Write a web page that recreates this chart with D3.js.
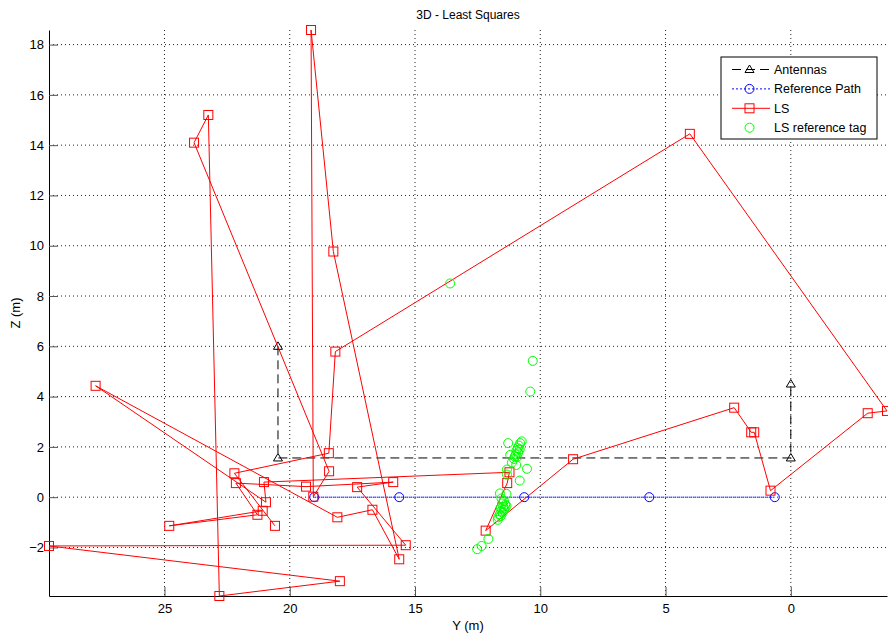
<!DOCTYPE html>
<html>
<head>
<meta charset="utf-8">
<title>3D - Least Squares</title>
<style>
  body { margin: 0; background: #fff; }
  text { font-family: "Liberation Sans", Arial, Helvetica, sans-serif; }
</style>
</head>
<body>
<div id="chart"></div>
<script src="https://d3js.org/d3.v7.min.js"></script>
<script>
// Antennas (Y, Z)
var antY = [20.47, 20.47, 0, 0];
var antZ = [6.0, 1.56, 1.56, 4.5];

// Reference path
var refY = [19.02, 15.63, 10.64, 5.65, 0.64];
var refZ = [0, 0, 0, 0, 0];

// LS estimate, in path order
var lsY = [20.59, 22.21, 18.44, 18.18, 4.03, -3.84, -3.07, 0.81, 1.46, 1.58, 2.26, 8.69, 12.18, 11.32, 11.23,
           21.03, 20.95, 27.75, 18.10, 16.70, 15.63, 18.26, 19.15, 19.06, 18.43, 23.82, 23.25, 22.81, 18.00,
           29.61, 15.37, 17.31, 15.87, 19.35, 22.15, 21.29, 24.81, 21.08];
var lsZ = [-1.14, 0.95, 1.75, 5.79, 14.45, 3.43, 3.34, 0.26, 2.58, 2.58, 3.56, 1.51, -1.33, 0.56, 0.99,
           0.60, -0.20, 4.43, -0.80, -0.50, -2.47, 9.77, 18.58, 0.02, 1.03, 14.10, 15.20, -3.93, -3.34,
           -1.94, -1.91, 0.40, 0.60, 0.42, 0.56, -0.70, -1.14, -0.54];

// LS reference tag
var tagY = [13.6, 10.3, 10.4, 11.28, 10.74, 10.8, 10.85, 10.9, 10.82, 10.95, 10.88, 10.98, 11.02, 10.92,
            11.05, 11.2, 11.13, 10.96, 10.53, 11.33, 11.33, 10.82, 11.61, 11.35, 11.55, 11.45, 11.52, 11.4,
            11.48, 11.58, 11.45, 11.55, 11.5, 11.62, 11.58, 11.68, 11.42, 11.35, 11.7, 12.07, 12.34, 12.52];
var tagZ = [8.5, 5.42, 4.2, 2.15, 2.22, 2.15, 2.05, 1.95, 1.9, 1.85, 1.78, 1.7, 1.62, 1.6,
            1.52, 1.68, 1.38, 1.28, 1.13, 1.1, 0.9, 0.66, 0.15, 0.13, -0.05, -0.15, -0.25, -0.3,
            -0.38, -0.42, -0.5, -0.55, -0.62, -0.68, -0.75, -0.8, -0.45, -0.35, -0.9, -1.66, -1.94, -2.07];

var xTicks = [25, 20, 15, 10, 5, 0];
var yTicks = [-2, 0, 2, 4, 6, 8, 10, 12, 14, 16, 18];

var width = 888, height = 637;
var pLeft = 49, pRight = 887, pTop = 30, pBottom = 596;

function zip(a, b) { return a.map(function(v, i) { return [v, b[i]]; }); }
var ant = zip(antY, antZ), ref = zip(refY, refZ), ls = zip(lsY, lsZ), tag = zip(tagY, tagZ);

var allY = antY.concat(refY, lsY, tagY), allZ = antZ.concat(refZ, lsZ, tagZ);
var x = d3.scaleLinear().domain([d3.max(allY), d3.min(allY)]).range([pLeft, pRight]);
var y = d3.scaleLinear().domain([d3.min(allZ), d3.max(allZ)]).range([pBottom, pTop]);

var svg = d3.select('#chart').append('svg')
    .attr('width', width).attr('height', height);

// grid
svg.append('g').selectAll('line').data(xTicks).enter().append('line')
    .attr('x1', function(d) { return x(d); }).attr('x2', function(d) { return x(d); })
    .attr('y1', pTop).attr('y2', pBottom)
    .attr('stroke', '#222').attr('stroke-width', 1).attr('stroke-dasharray', '1,3');
svg.append('g').selectAll('line').data(yTicks).enter().append('line')
    .attr('y1', function(d) { return y(d); }).attr('y2', function(d) { return y(d); })
    .attr('x1', pLeft).attr('x2', pRight)
    .attr('stroke', '#222').attr('stroke-width', 1).attr('stroke-dasharray', '1,3');

// axes
var xAxis = d3.axisBottom(x).tickValues(xTicks).tickSize(-9).tickPadding(8).tickSizeOuter(0);
var yAxis = d3.axisLeft(y).tickValues(yTicks).tickSize(-9).tickPadding(5).tickSizeOuter(0);
var gx = svg.append('g').attr('transform', 'translate(0,' + pBottom + ')').call(xAxis);
var gy = svg.append('g').attr('transform', 'translate(' + pLeft + ',0)').call(yAxis);
[gx, gy].forEach(function(g) {
  g.selectAll('text').attr('font-size', 13).attr('fill', '#000')
      .style('font-family', '"Liberation Sans", Arial, sans-serif');
  g.selectAll('.tick line').attr('stroke', '#555');
  g.select('.domain').attr('stroke', '#000');
});

var line = d3.line().x(function(d) { return x(d[0]); }).y(function(d) { return y(d[1]); });
var tri = 'M0,-4.5L4.5,3L-4.5,3Z';

// Antennas
svg.append('path').datum(ant).attr('d', line).attr('fill', 'none')
    .attr('stroke', '#000').attr('stroke-dasharray', '9,5');
svg.append('g').selectAll('path').data(ant).enter().append('path')
    .attr('d', tri).attr('fill', 'none').attr('stroke', '#000')
    .attr('transform', function(d) { return 'translate(' + x(d[0]) + ',' + y(d[1]) + ')'; });

// Reference path
svg.append('path').datum(ref).attr('d', line).attr('fill', 'none')
    .attr('stroke', '#00f').attr('stroke-dasharray', '2,2');
svg.append('g').selectAll('circle').data(ref).enter().append('circle')
    .attr('cx', function(d) { return x(d[0]); }).attr('cy', function(d) { return y(d[1]); })
    .attr('r', 4.5).attr('fill', 'none').attr('stroke', '#00f');

// LS
svg.append('path').datum(ls).attr('d', line).attr('fill', 'none')
    .attr('stroke', '#f00').attr('stroke-width', 1);
svg.append('g').selectAll('rect').data(ls).enter().append('rect')
    .attr('x', function(d) { return x(d[0]) - 4.5; }).attr('y', function(d) { return y(d[1]) - 4.5; })
    .attr('width', 9).attr('height', 9).attr('fill', 'none').attr('stroke', '#f00');

// LS reference tag
svg.append('g').selectAll('circle').data(tag).enter().append('circle')
    .attr('cx', function(d) { return x(d[0]); }).attr('cy', function(d) { return y(d[1]); })
    .attr('r', 4.5).attr('fill', 'none').attr('stroke', '#0f0');

// labels
svg.append('text').attr('x', (pLeft + pRight) / 2).attr('y', 19).attr('text-anchor', 'middle')
    .attr('font-size', 12).text('3D - Least Squares');
svg.append('text').attr('x', (pLeft + pRight) / 2).attr('y', 630).attr('text-anchor', 'middle')
    .attr('font-size', 13).text('Y (m)');
svg.append('text').attr('transform', 'translate(20,' + ((pTop + pBottom) / 2) + ') rotate(-90)')
    .attr('text-anchor', 'middle').attr('font-size', 13).text('Z (m)');

// legend
var legendItems = ['Antennas', 'Reference Path', 'LS', 'LS reference tag'];
var lg = svg.append('g');
lg.append('rect').attr('x', 721).attr('y', 57).attr('width', 156).attr('height', 82)
    .attr('fill', '#fff').attr('stroke', '#000');
legendItems.forEach(function(name, i) {
  var cy = 69.5 + i * 19.4, cx = 749.5;
  if (i === 0) {
    lg.append('line').attr('x1', 732).attr('x2', 770).attr('y1', cy).attr('y2', cy)
        .attr('stroke', '#000').attr('stroke-dasharray', '9,5');
    lg.append('path').attr('d', tri).attr('fill', 'none').attr('stroke', '#000')
        .attr('transform', 'translate(' + cx + ',' + cy + ')');
  } else if (i === 1) {
    lg.append('line').attr('x1', 732).attr('x2', 770).attr('y1', cy).attr('y2', cy)
        .attr('stroke', '#00f').attr('stroke-dasharray', '2,2');
    lg.append('circle').attr('cx', cx).attr('cy', cy).attr('r', 4.5)
        .attr('fill', 'none').attr('stroke', '#00f');
  } else if (i === 2) {
    lg.append('line').attr('x1', 732).attr('x2', 770).attr('y1', cy).attr('y2', cy)
        .attr('stroke', '#f00');
    lg.append('rect').attr('x', cx - 4.5).attr('y', cy - 4.5).attr('width', 9).attr('height', 9)
        .attr('fill', 'none').attr('stroke', '#f00');
  } else {
    lg.append('circle').attr('cx', cx).attr('cy', cy).attr('r', 4.5)
        .attr('fill', 'none').attr('stroke', '#0f0');
  }
  lg.append('text').attr('x', 774).attr('y', cy + 4.5).attr('font-size', 12.5).text(name);
});
</script>
</body>
</html>
